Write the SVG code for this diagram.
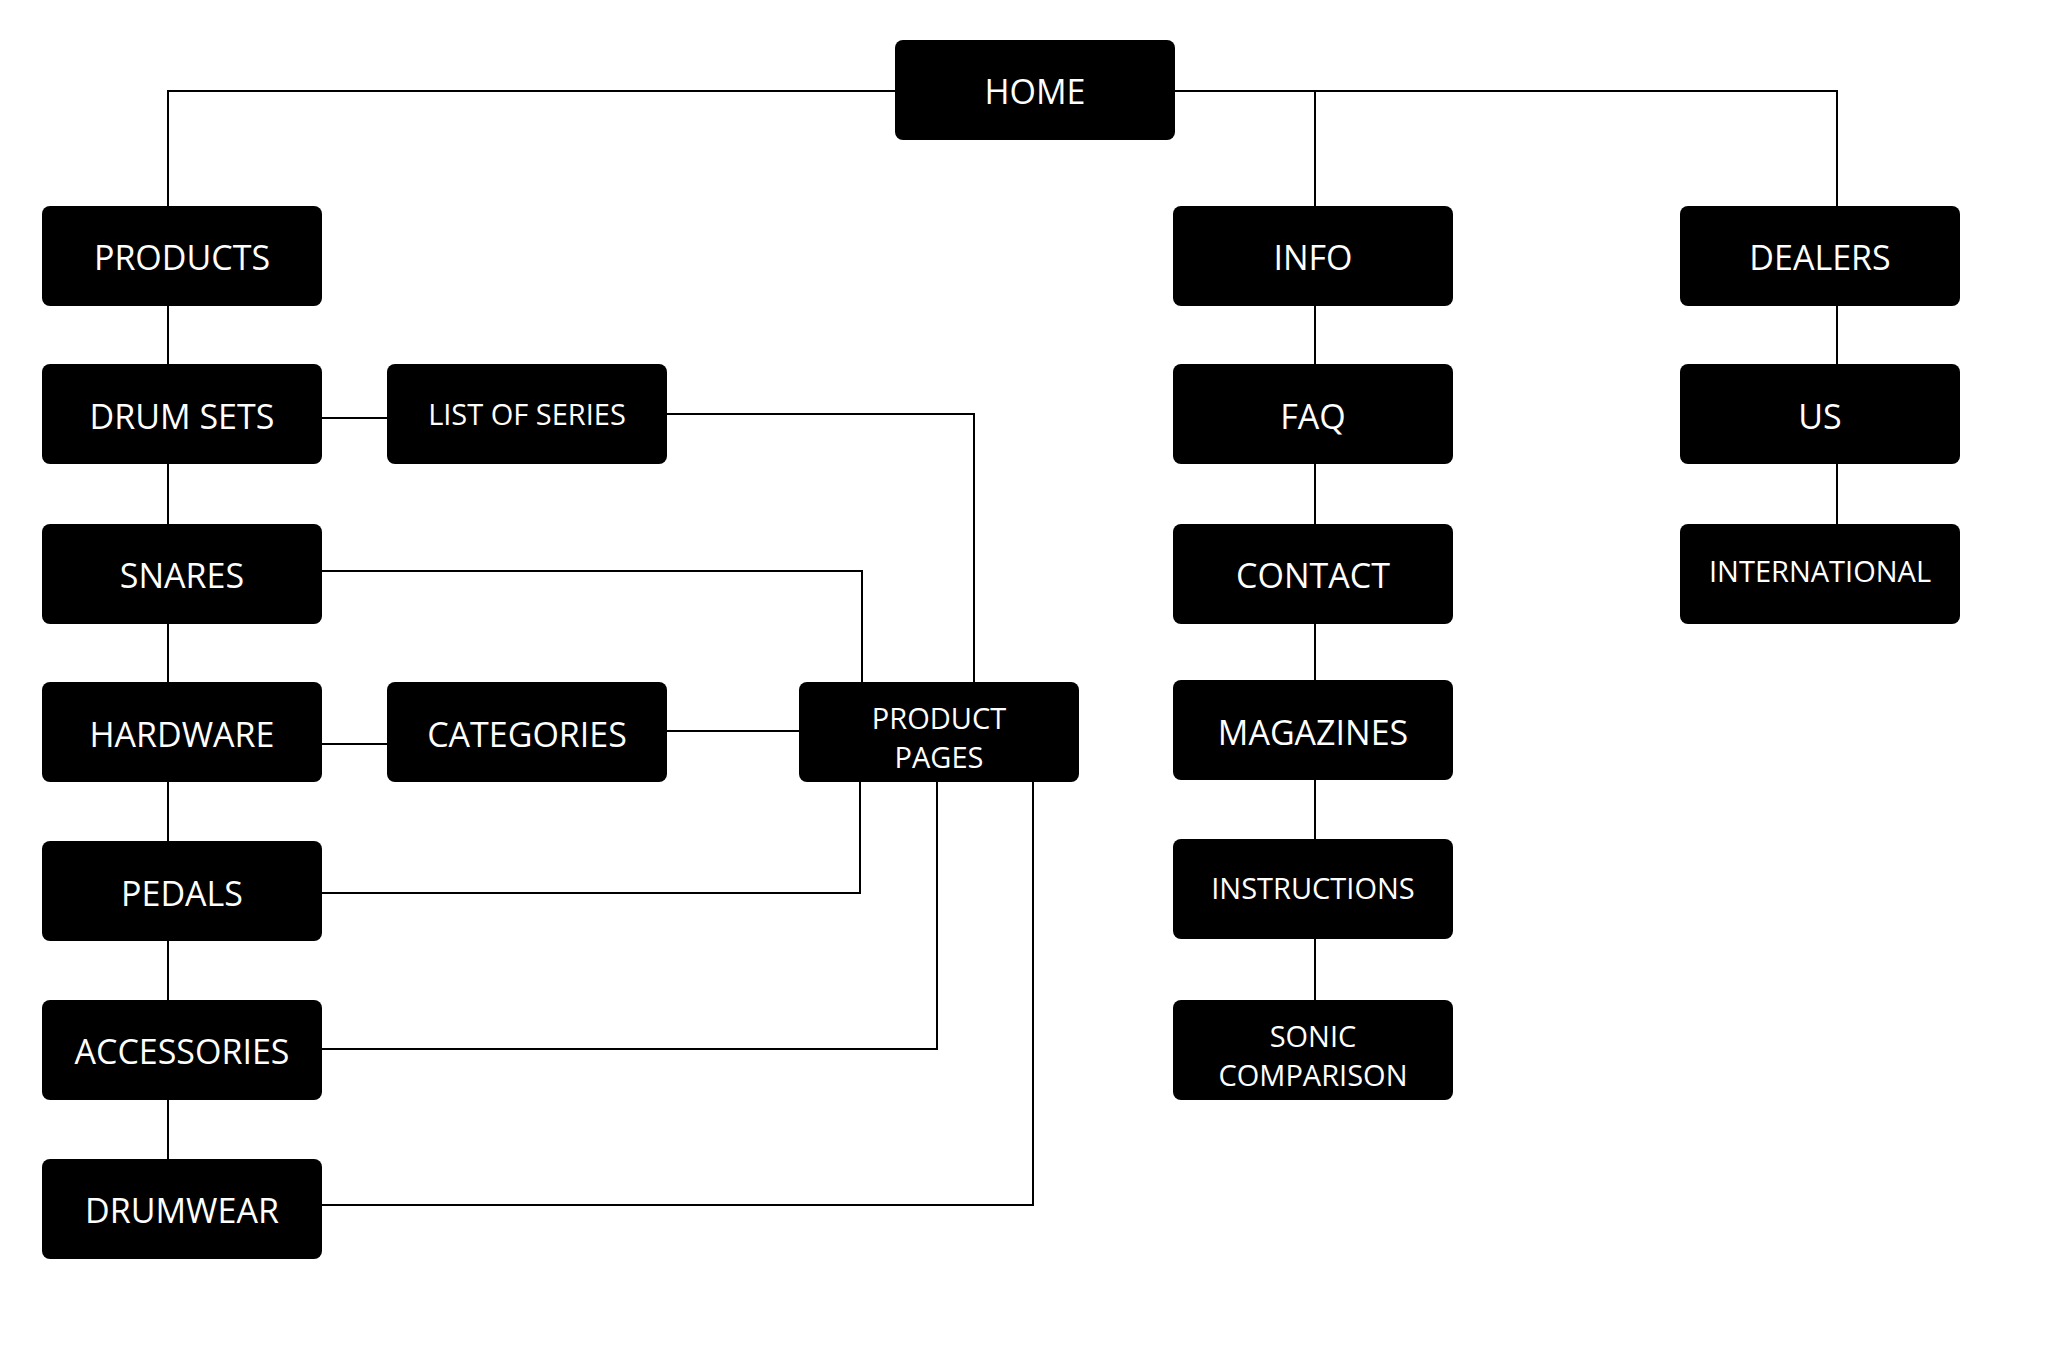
<svg xmlns="http://www.w3.org/2000/svg" width="2048" height="1345" viewBox="0 0 2048 1345">
<style>
.b{fill:#000}
.t{fill:#fff;font-family:"Open Sans","Liberation Sans",sans-serif;font-size:34px;text-anchor:middle;dominant-baseline:central}
.s{font-size:29px}
.c{fill:none;stroke:#000;stroke-width:2}
</style>
<rect width="2048" height="1345" fill="#fff"/>
<g id="connectors" class="c">
<polyline points="895,91 168,91 168,206"/>
<polyline points="1175,91 1837,91 1837,206"/>
<line x1="1315" y1="91" x2="1315" y2="206"/>
<line x1="168" y1="306" x2="168" y2="1159"/>
<line x1="322" y1="418" x2="387" y2="418"/>
<polyline points="667,414 974,414 974,682"/>
<polyline points="322,571 862,571 862,682"/>
<line x1="322" y1="744" x2="387" y2="744"/>
<line x1="667" y1="731" x2="799" y2="731"/>
<polyline points="322,893 860,893 860,782"/>
<polyline points="322,1049 937,1049 937,782"/>
<polyline points="322,1205 1033,1205 1033,782"/>
<line x1="1315" y1="306" x2="1315" y2="1000"/>
<line x1="1837" y1="306" x2="1837" y2="524"/>
</g>
<g id="home"><rect class="b" x="895" y="40" width="280" height="100" rx="8"/><text class="t" x="1035" y="91">HOME</text></g>
<g id="products"><rect class="b" x="42" y="206" width="280" height="100" rx="8"/><text class="t" x="182" y="257">PRODUCTS</text></g>
<g id="drumsets"><rect class="b" x="42" y="364" width="280" height="100" rx="8"/><text class="t" x="182" y="416">DRUM SETS</text></g>
<g id="snares"><rect class="b" x="42" y="524" width="280" height="100" rx="8"/><text class="t" x="182" y="575">SNARES</text></g>
<g id="hardware"><rect class="b" x="42" y="682" width="280" height="100" rx="8"/><text class="t" x="182" y="734">HARDWARE</text></g>
<g id="pedals"><rect class="b" x="42" y="841" width="280" height="100" rx="8"/><text class="t" x="182" y="893">PEDALS</text></g>
<g id="accessories"><rect class="b" x="42" y="1000" width="280" height="100" rx="8"/><text class="t" x="182" y="1051">ACCESSORIES</text></g>
<g id="drumwear"><rect class="b" x="42" y="1159" width="280" height="100" rx="8"/><text class="t" x="182" y="1210">DRUMWEAR</text></g>
<g id="listofseries"><rect class="b" x="387" y="364" width="280" height="100" rx="8"/><text class="t s" x="527" y="413">LIST OF SERIES</text></g>
<g id="categories"><rect class="b" x="387" y="682" width="280" height="100" rx="8"/><text class="t" x="527" y="734">CATEGORIES</text></g>
<g id="productpages"><rect class="b" x="799" y="682" width="280" height="100" rx="8"/><text class="t s" x="939" y="717">PRODUCT</text><text class="t s" x="939" y="756">PAGES</text></g>
<g id="info"><rect class="b" x="1173" y="206" width="280" height="100" rx="8"/><text class="t" x="1313" y="257">INFO</text></g>
<g id="faq"><rect class="b" x="1173" y="364" width="280" height="100" rx="8"/><text class="t" x="1313" y="416">FAQ</text></g>
<g id="contact"><rect class="b" x="1173" y="524" width="280" height="100" rx="8"/><text class="t" x="1313" y="575">CONTACT</text></g>
<g id="magazines"><rect class="b" x="1173" y="680" width="280" height="100" rx="8"/><text class="t" x="1313" y="732">MAGAZINES</text></g>
<g id="instructions"><rect class="b" x="1173" y="839" width="280" height="100" rx="8"/><text class="t s" x="1313" y="887">INSTRUCTIONS</text></g>
<g id="sonic"><rect class="b" x="1173" y="1000" width="280" height="100" rx="8"/><text class="t s" x="1313" y="1035">SONIC</text><text class="t s" x="1313" y="1074">COMPARISON</text></g>
<g id="dealers"><rect class="b" x="1680" y="206" width="280" height="100" rx="8"/><text class="t" x="1820" y="257">DEALERS</text></g>
<g id="us"><rect class="b" x="1680" y="364" width="280" height="100" rx="8"/><text class="t" x="1820" y="416">US</text></g>
<g id="international"><rect class="b" x="1680" y="524" width="280" height="100" rx="8"/><text class="t s" x="1820" y="570">INTERNATIONAL</text></g>
</svg>
